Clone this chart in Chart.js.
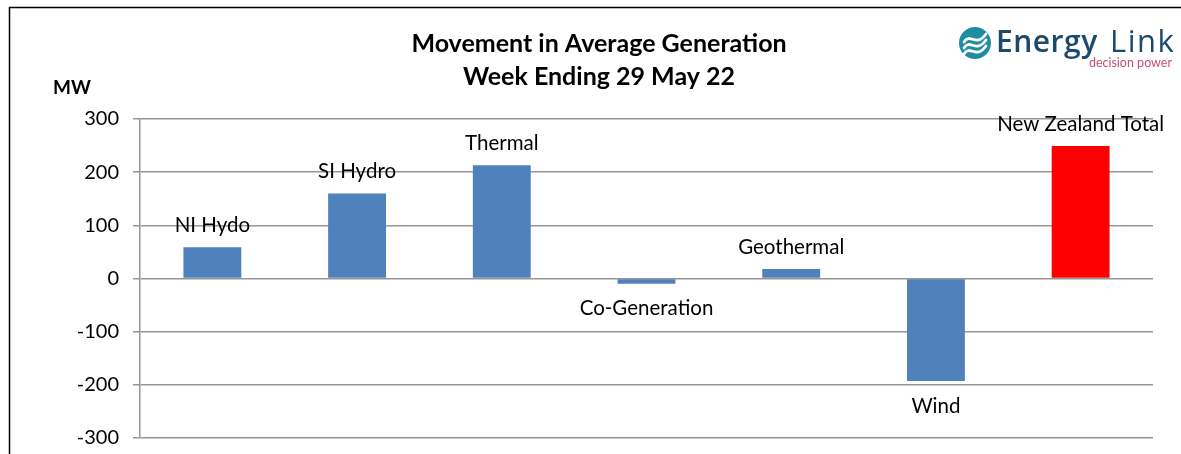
<!DOCTYPE html>
<html>
<head>
<meta charset="utf-8">
<script src="https://cdn.jsdelivr.net/npm/chart.js@4"></script>
<style>
  html, body { margin: 0; padding: 0; background: #fff; }
  #wrap { width: 1181px; height: 454px; position: relative; }
</style>
</head>
<body>
<div id="wrap"><canvas id="genChart" width="1181" height="454"></canvas></div>
<script>
// Data
const categories = ['NI Hydo', 'SI Hydro', 'Thermal', 'Co-Generation', 'Geothermal', 'Wind', 'New Zealand Total'];
const movement = [59, 160, 213, -10, 18, -193, 249];
const barColors = ['#4F81BD', '#4F81BD', '#4F81BD', '#4F81BD', '#4F81BD', '#4F81BD', '#FF0000'];
const titleLines = ['Movement in Average Generation', 'Week Ending 29 May 22'];
const yTicks = [-300, -200, -100, 0, 100, 200, 300];

const FONT = 'Lato, Calibri, sans-serif';

// Frame, title, unit label and logo
const decor = {
    id: 'decor',
    beforeDraw(chart) {
        const c = chart.ctx;
        c.save();
        c.strokeStyle = '#000';
        c.lineWidth = 1.5;
        c.strokeRect(9.5, 7.5, 1200, 500);
        c.restore();
    },
    afterDraw(chart) {
        const c = chart.ctx;
        c.save();
        c.fillStyle = '#000';
        c.textAlign = 'center';
        c.textBaseline = 'middle';
        c.font = 'bold 25px ' + FONT;
        c.fillText(titleLines[0], 599, 44);
        c.fillText(titleLines[1], 599, 77);
        c.textAlign = 'left';
        c.font = 'bold 19px ' + FONT;
        c.fillText('MW', 53, 88);

        // logo
        c.fillStyle = '#1E8DA3';
        c.beginPath();
        c.arc(975, 43, 16, 0, Math.PI * 2);
        c.fill();
        c.strokeStyle = '#fff';
        c.lineWidth = 2.8;
        c.lineCap = 'round';
        [-6, 0, 6].forEach(d => {
            c.beginPath();
            c.moveTo(964, 48 + d);
            c.bezierCurveTo(970, 38 + d, 976, 54 + d, 986, 40 + d);
            c.stroke();
        });
        c.fillStyle = '#1C4A6C';
        c.textBaseline = 'alphabetic';
        c.letterSpacing = '0.5px';
        c.font = '600 30px "Open Sans", sans-serif';
        c.fillText('Energy', 996, 52);
        c.letterSpacing = '1.5px';
        c.font = '31px "Open Sans", sans-serif';
        c.fillText('Link', 1110, 52);
        c.letterSpacing = '0px';
        c.textAlign = 'right';
        c.fillStyle = '#C4506C';
        c.font = '12.5px ' + FONT;
        c.fillText('decision power', 1172, 67);
        c.restore();
    }
};

// Category labels next to each bar end
const barLabels = {
    id: 'barLabels',
    afterDatasetsDraw(chart) {
        const c = chart.ctx;
        const meta = chart.getDatasetMeta(0);
        c.save();
        c.fillStyle = '#000';
        c.font = '20.5px ' + FONT;
        c.textAlign = 'center';
        c.textBaseline = 'middle';
        meta.data.forEach((bar, i) => {
            const v = movement[i];
            const y = v >= 0 ? bar.y - 22 : bar.y + 25;
            c.fillText(categories[i], bar.x, y);
        });
        c.restore();
    }
};

new Chart(document.getElementById('genChart').getContext('2d'), {
    type: 'bar',
    data: {
        labels: categories,
        datasets: [{
            data: movement,
            backgroundColor: barColors,
            borderWidth: 0,
            barPercentage: 0.4,
            categoryPercentage: 1.0
        }]
    },
    options: {
        responsive: false,
        animation: false,
        layout: { padding: { left: 0, right: 28, top: 119, bottom: 16 } },
        plugins: {
            legend: { display: false },
            tooltip: { enabled: false },
            title: { display: false }
        },
        scales: {
            x: {
                display: false,
                grid: { display: false }
            },
            y: {
                min: -300,
                max: 300,
                afterFit: (s) => {
                    s.width = 140;
                    s.paddingTop = 0;
                    s.paddingBottom = 0;
                },
                afterBuildTicks: (s) => { s.ticks = yTicks.map(v => ({ value: v })); },
                ticks: {
                    font: { family: FONT, size: 20 },
                    color: '#000',
                    padding: 14
                },
                grid: { color: '#969696', lineWidth: 1.5, tickLength: 7 },
                border: { color: '#969696', width: 1.5 }
            }
        }
    },
    plugins: [decor, barLabels]
});
</script>
</body>
</html>
